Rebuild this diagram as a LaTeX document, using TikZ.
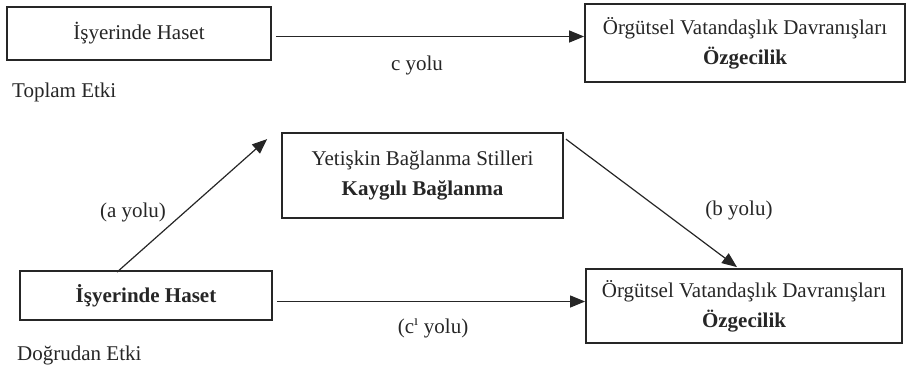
\documentclass[tikz,border=0pt]{standalone}
\usepackage{fontspec}
\setmainfont{Liberation Serif}
\usetikzlibrary{arrows.meta}
\begin{document}
\begin{tikzpicture}[x=1pt,y=-1pt,
  box/.style={draw=black!85, line width=1.8pt, align=center, inner sep=0pt,
    font=\fontsize{21}{30}\selectfont, text=black!85},
  lbl/.style={inner sep=0pt, font=\fontsize{21}{24}\selectfont, text=black!85},
  arr/.style={draw=black!85, line width=1.2pt, -{Triangle[length=15pt,width=12pt]}}]
\useasboundingbox (0,0) rectangle (907,372);
\node[box, minimum width=264pt, minimum height=53pt] (b1) at (139,33.5) {İşyerinde Haset};
\node[box, minimum width=320pt, minimum height=78pt] (b2) at (745,43) {Örgütsel Vatandaşlık Davranışları\\\textbf{Özgecilik}};
\node[box, minimum width=281pt, minimum height=85pt] (mid) at (422.5,175.5) {Yetişkin Bağlanma Stilleri\\\textbf{Kaygılı Bağlanma}};
\node[box, minimum width=252pt, minimum height=49pt] (b4) at (146,295.5) {\textbf{İşyerinde Haset}};
\node[box, minimum width=316pt, minimum height=74pt] (b5) at (744,306) {Örgütsel Vatandaşlık Davranışları\\\textbf{Özgecilik}};
\node[lbl] (lc) at (417,65) {c yolu};
\node[lbl, anchor=west] (lt) at (12,92) {Toplam Etki};
\node[lbl] (la) at (133,212) {(a yolu)};
\node[lbl] (lb) at (739,210) {(b yolu)};
\node[lbl] (lcp) at (433,328) {(c\textsuperscript{ı} yolu)};
\node[lbl, anchor=west] (ld) at (17,355) {Doğrudan Etki};
\draw[arr] ([xshift=4pt,yshift=-3pt]b1.east) -- ([yshift=-3pt]b1.east -| b2.west);
\draw[arr] ([xshift=-29pt,yshift=-2pt]b4.north) -- ([xshift=-14pt,yshift=-7pt]mid.north west);
\draw[arr] ([xshift=2pt,yshift=-7pt]mid.north east) -- ([xshift=-7pt,yshift=1pt]b5.north);
\draw[arr] ([xshift=4pt,yshift=-6pt]b4.east) -- ([yshift=-6pt]b4.east -| b5.west);
\end{tikzpicture}
\end{document}
